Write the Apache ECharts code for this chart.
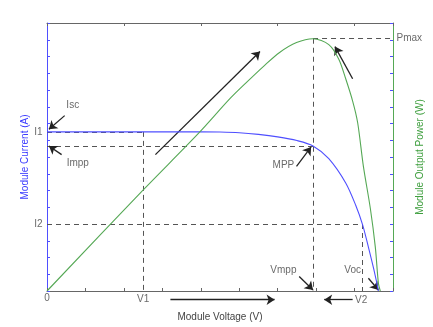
<!DOCTYPE html>
<html>
<head>
<meta charset="utf-8">
<script src="https://cdn.jsdelivr.net/npm/echarts@6/dist/echarts.min.js"></script>
<style>
html, body { margin: 0; padding: 0; background: #fff; }
#main { width: 433px; height: 327px; }
</style>
</head>
<body>
<div id="main"></div>
<script>
// I-V curve (volts, amps)
var ivVolts = [0, 1, 2, 3, 4, 4.5, 5.0, 5.5, 6.0, 6.5, 6.92, 7.33, 7.77, 8.03, 8.21, 8.36, 8.5, 8.62];
var ivAmps  = [9.5, 9.5, 9.5, 9.5, 9.5, 9.49, 9.45, 9.35, 9.2, 8.98, 8.66, 7.9, 6.45, 5.12, 3.95, 2.62, 1.3, 0];
// P-V curve (volts, watts)
var pvVolts = [0, 2.51, 3.92, 4.77, 5.21, 5.64, 6.05, 6.49, 6.92, 7.33, 7.59, 7.77, 7.95, 8.08, 8.23, 8.41, 8.54, 8.62, 8.67];
var pvWatts = [0, 6.05, 9.36, 11.51, 12.5, 13.43, 14.24, 14.83, 15.06, 14.71, 13.84, 12.67, 11.34, 10.06, 7.44, 4.94, 2.62, 0.47, 0];

// key values
var V1 = 2.5, Vmpp = 6.92, V2 = 8.21, Voc = 8.62;
var I1 = 9.5, Impp = 8.66, I2 = 4, Pmax = 15.06;
var xMax = 9, yMax = 16;

// annotation texts and where they sit (data units)
var noteTexts = ['Isc', 'Impp', 'MPP', 'Vmpp', 'Voc', '0', 'V1', 'V2'];
var noteX     = [0.67, 0.80, 6.15, 6.15, 7.95, 0, V1, 8.17];
var noteY     = [11.1, 7.6, 7.5, 1.22, 1.22, -0.42, -0.47, -0.58];

// arrows: [from, to]
var arrowList = [
	[[0.46, 10.47], [0.05, 9.65]],
	[[0.38, 8.14], [0.05, 8.66]],
	[[2.82, 8.14], [5.54, 14.3]],
	[[7.95, 12.67], [7.49, 14.59]],
	[[6.49, 7.44], [6.87, 8.6]],
	[[6.56, 0.87], [6.92, 0.06]],
	[[8.36, 0.76], [8.62, 0.06]],
	[[7.95, -0.52], [7.21, -0.52]],
	[[3.21, -0.52], [5.92, -0.52]]
];

function pairs(xs, ys) {
	var out = [];
	for (var i = 0; i < xs.length; i++) {
		out.push([xs[i], ys[i]]);
	}
	return out;
}

var guides = [
	[[0, I1], [V1, I1]],
	[[V1, I1], [V1, 0]],
	[[0, Impp], [Vmpp, Impp]],
	[[0, I2], [V2, I2]],
	[[V2, I2], [V2, 0]],
	[[Vmpp, Pmax], [Vmpp, 0]],
	[[Vmpp, Pmax], [xMax, Pmax]]
];

var notes = [];
for (var i = 0; i < noteTexts.length; i++) {
	notes.push({ value: [noteX[i], noteY[i]], name: noteTexts[i] });
}

var txtFont = 'Liberation Sans, Arial, sans-serif';
var txtColor = '#444';
var blue = '#4f4fff';
var green = '#55a855';

var option = {
	animation: false,
	backgroundColor: '#fff',
	grid: { left: 47, top: 23, right: 35, bottom: 29 },
	xAxis: [
		{
			type: 'value', min: 0, max: xMax, interval: 1,
			name: 'Module Voltage (V)', nameLocation: 'middle', nameGap: 21,
			nameTextStyle: { fontSize: 10, color: txtColor, fontFamily: txtFont },
			axisLine: { onZero: false, lineStyle: { color: '#666' } },
			axisTick: { inside: true, length: 3, lineStyle: { color: '#666' } },
			axisLabel: { show: false },
			splitLine: { show: false }
		},
		{
			type: 'value', position: 'top', min: 0, max: xMax, interval: 2,
			axisLine: { onZero: false, lineStyle: { color: '#666' } },
			axisTick: { inside: true, length: 3, lineStyle: { color: '#666' } },
			axisLabel: { show: false },
			splitLine: { show: false }
		}
	],
	yAxis: [
		{
			type: 'value', min: 0, max: yMax, interval: 1,
			name: 'Module Current (A)', nameLocation: 'middle', nameGap: 17, nameRotate: 90,
			nameTextStyle: { fontSize: 10, color: '#3a3aff', fontFamily: txtFont },
			axisLine: { onZero: false, lineStyle: { color: blue } },
			axisTick: { inside: true, length: 3, lineStyle: { color: blue } },
			axisLabel: { show: false },
			splitLine: { show: false }
		},
		{
			type: 'value', position: 'right', min: 0, max: yMax, interval: 1,
			name: 'Module Output Power (W)', nameLocation: 'middle', nameGap: 22, nameRotate: 90,
			nameTextStyle: { fontSize: 10, color: '#3f9f3f', fontFamily: txtFont },
			axisLine: { onZero: false, lineStyle: { color: green } },
			axisTick: { inside: true, length: 3, lineStyle: { color: blue } },
			axisLabel: { show: false },
			splitLine: { show: false }
		}
	],
	series: [
		{
			name: 'guides', type: 'lines', coordinateSystem: 'cartesian2d',
			clip: false, silent: true,
			lineStyle: { color: '#555', width: 1, opacity: 1, type: [5, 4] },
			data: guides.map(function (g) { return { coords: g }; })
		},
		{
			name: 'Current', type: 'line', xAxisIndex: 0, yAxisIndex: 0,
			data: pairs(ivVolts, ivAmps), showSymbol: false, smooth: 0.3,
			lineStyle: { color: blue, width: 1.1 }
		},
		{
			name: 'Power', type: 'line', xAxisIndex: 0, yAxisIndex: 1,
			data: pairs(pvVolts, pvWatts), showSymbol: false, smooth: 0.3,
			lineStyle: { color: green, width: 1.1 }
		},
		{
			name: 'arrows', type: 'lines', coordinateSystem: 'cartesian2d',
			clip: false, silent: true,
			symbol: ['none', 'arrow'], symbolSize: 8,
			lineStyle: { color: '#222', width: 1.3, opacity: 1 },
			data: arrowList.map(function (a) { return { coords: a }; })
		},
		{
			name: 'notes', type: 'scatter', clip: false, silent: true,
			symbolSize: 1, itemStyle: { color: 'rgba(0,0,0,0)' },
			label: {
				show: true, position: 'inside', formatter: '{b}',
				fontSize: 10, color: txtColor, fontFamily: txtFont
			},
			data: notes
		},
		{
			name: 'leftTicks', type: 'scatter', clip: false, silent: true,
			symbolSize: 1, itemStyle: { color: 'rgba(0,0,0,0)' },
			label: {
				show: true, position: 'left', distance: 4, formatter: '{b}',
				fontSize: 10, color: txtColor, fontFamily: txtFont
			},
			data: [{ value: [0, I1], name: 'I1' }, { value: [0, I2], name: 'I2' }]
		},
		{
			name: 'rightTicks', type: 'scatter', clip: false, silent: true,
			symbolSize: 1, itemStyle: { color: 'rgba(0,0,0,0)' },
			label: {
				show: true, position: 'right', distance: 3, formatter: '{b}',
				fontSize: 10, color: txtColor, fontFamily: txtFont
			},
			data: [{ value: [xMax, Pmax], name: 'Pmax' }]
		}
	]
};

var myChart = echarts.init(document.getElementById('main'));
myChart.setOption(option);
</script>
</body>
</html>
